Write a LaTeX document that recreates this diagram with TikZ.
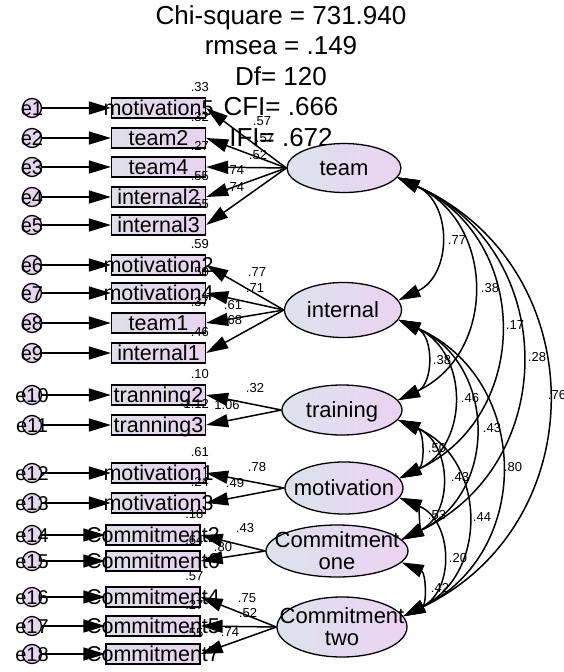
\documentclass[tikz,border=0pt]{standalone}
\usepackage{fontspec}
\setmainfont{Liberation Sans}
\usetikzlibrary{shapes,arrows.meta,positioning}
\definecolor{boxL}{HTML}{DEDFE9}
\definecolor{boxR}{HTML}{E8D3EF}
\definecolor{latL}{HTML}{DDE2EC}
\definecolor{latR}{HTML}{EBD3F2}
\definecolor{errC}{HTML}{E6D5EE}

\tikzset{
  boxtxt/.style={font=\fontsize{21.5}{24}\selectfont, inner sep=0pt, text height=15.5pt, text depth=0pt},
  obs/.style={draw, rectangle, line width=1.3pt, left color=boxL, right color=boxR, minimum width=94pt, minimum height=20pt, inner sep=0pt, label={[boxtxt]center:#1}},
  lattxt/.style={font=\fontsize{22}{22.5}\selectfont, inner sep=0pt, align=center, text height=15.7pt, text depth=0pt},
  latent/.style={draw, ellipse, line width=1.3pt, left color=latL, right color=latR, minimum width=118pt, minimum height=52pt, inner sep=0pt, label={[lattxt]center:#1}},
  latenttwo/.style={draw, ellipse, line width=1.3pt, left color=latL, right color=latR, minimum width=118pt, minimum height=52pt, inner sep=0pt, label={[lattxt, yshift=-11pt]center:#1}},
  err/.style={draw, circle, line width=1.3pt, fill=errC, minimum size=19pt, inner sep=0pt, label={[font=\fontsize{20}{22}\selectfont, inner sep=0pt, text height=14.4pt, text depth=0pt]center:#1}},
  num/.style={font=\fontsize{13}{15}\selectfont, inner sep=0pt},
  load/.style={line width=1.5pt, -{Triangle[length=22pt,width=13pt]}},
  cov/.style={line width=1.5pt, {Triangle[length=22pt,width=13pt]}-{Triangle[length=22pt,width=13pt]}},
}

\begin{document}
\begin{tikzpicture}[x=1pt, y=-1pt]
\useasboundingbox (0,0) rectangle (564,672);
% Fit indices
\node[font=\fontsize{26}{30.5}\selectfont, align=center, anchor=north, inner sep=0pt] (fit) at (281,5) {Chi-square = 731.940\\rmsea = .149\\Df= 120\\CFI= .666\\IFI= .672};
% Latent factors
\node[latent=team, minimum width=114pt, minimum height=49pt] (team) at (344,168) {};
\node[latent=internal, minimum width=117pt, minimum height=55pt] (internal) at (343,310) {};
\node[latent=training, minimum width=120pt, minimum height=50pt] (training) at (342,410) {};
\node[latent=motivation] (motiv) at (344,488) {};
\node[latenttwo=Commitment\\one, minimum width=142pt] (cone) at (337,551) {};
\node[latenttwo=Commitment\\two, minimum width=130pt, minimum height=60pt] (ctwo) at (342,627) {};
% Indicators, errors, loadings and R squares
\foreach \i/\bx/\y/\txt/\lv/\rs/\ld/\lx/\ly in {
  1/158.5/108/motivation5/team/.33/.57/262/121,
  2/158.5/138/team2/team/.32/.57/265/138,
  3/158.5/167/team4/team/.27/.52/258/155,
  4/158.5/197/internal2/team/.55/.74/235/170,
  5/158.5/225/internal3/team/.55/.74/235/187,
  6/158.5/265/motivation2/internal/.59/.77/257/272,
  7/158.5/293/motivation4/internal/.50/.71/255/288,
  8/158.5/323/team1/internal/.37/.61/233/305,
  9/158.5/353/internal1/internal/.46/.68/233/320,
  10/158.5/395/tranning2/training/.10/.32/255/388,
  11/158.5/425/tranning3/training/1.12/1.06/227/405,
  12/158.5/473/motivation1/motiv/.61/.78/257/467,
  13/158.5/503/motivation3/motiv/.24/.49/235/483,
  14/153/535/Commitment2/cone/.18/.43/245/528,
  15/153/561/Commitment6/cone/.64/.80/223/547,
  16/153/597/Commitment4/ctwo/.57/.75/247/598,
  17/153/626/Commitment5/ctwo/.27/.52/248/613,
  18/153/654/Commitment7/ctwo/.55/.74/230/632}{
  \node[err=e\i] (e\i) at (32,\y) {};
  \node[obs=\txt] (b\i) at (\bx,\y) {};
  \draw[load] (e\i) -- (b\i);
  \draw[load] (\lv.west) -- (b\i.east);
  \node[num, above left=6pt and -3pt of b\i.north east] {\rs};
  \node[num] at (\lx,\ly) {\ld};
}
% Covariances
\draw[cov] (team.-10) to[bend left=65, looseness=1.25] (internal.10);
\draw[cov] (team.-10) to[bend left=65, looseness=1.25] (training.10);
\draw[cov] (team.-10) to[bend left=65, looseness=1.25] (motiv.10);
\draw[cov] (team.-10) to[bend left=65, looseness=1.25] (cone.10);
\draw[cov] (team.-10) to[bend left=65, looseness=1.25] (ctwo.10);
\draw[cov] (internal.-10) to[bend left=65, looseness=1.25] (training.10);
\draw[cov] (internal.-10) to[bend left=65, looseness=1.25] (motiv.10);
\draw[cov] (internal.-10) to[bend left=65, looseness=1.25] (cone.10);
\draw[cov] (internal.-10) to[bend left=65, looseness=1.25] (ctwo.10);
\draw[cov] (training.-10) to[bend left=65, looseness=1.25] (motiv.10);
\draw[cov] (training.-10) to[bend left=65, looseness=1.25] (cone.10);
\draw[cov] (training.-10) to[bend left=65, looseness=1.25] (ctwo.10);
\draw[cov] (motiv.-10) to[bend left=65, looseness=1.25] (cone.10);
\draw[cov] (motiv.-10) to[bend left=65, looseness=1.25] (ctwo.10);
\draw[cov] (cone.-10) to[bend left=65, looseness=1.25] (ctwo.10);
% Correlation labels
\node[num] at (457,240) {.77};
\node[num] at (490,288) {.38};
\node[num] at (515,325) {.17};
\node[num] at (537,357) {.28};
\node[num] at (557,395) {.76};
\node[num] at (442,360) {.38};
\node[num] at (470,398) {.46};
\node[num] at (492,428) {.43};
\node[num] at (513,467) {.80};
\node[num] at (437,448) {.50};
\node[num] at (460,477) {.43};
\node[num] at (482,517) {.44};
\node[num] at (437,515) {.53};
\node[num] at (458,558) {.20};
\node[num] at (440,588) {.42};
\end{tikzpicture}
\end{document}
